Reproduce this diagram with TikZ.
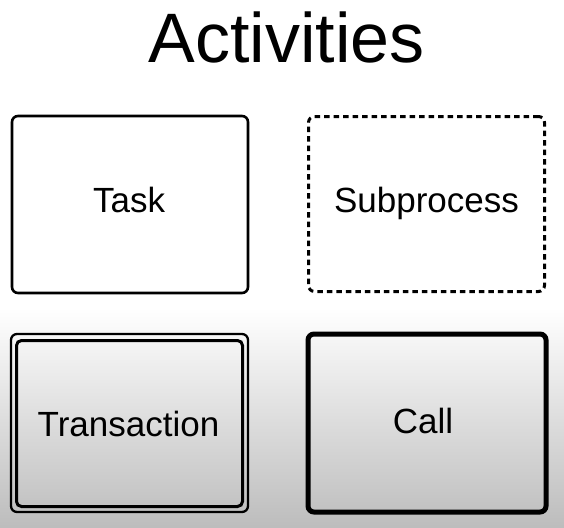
\documentclass[tikz,border=0pt]{standalone}
\usepackage{fontspec}
\setmainfont{Liberation Sans}
\begin{document}
\begin{tikzpicture}[x=1pt,y=-1pt,
  lbl/.style={font=\fontsize{35}{42}\selectfont, anchor=base, inner sep=0pt},
  actbox/.style={draw=black, rounded corners=6pt, inner sep=0pt},
]
\useasboundingbox (0,0) rectangle (564,527);
% background: white top, gradient bottom
\fill[white] (0,0) rectangle (564,310);
\shade[top color=white, bottom color=black!26] (0,308) rectangle (564,527);
% title
\node[font=\fontsize{70}{84}\selectfont, anchor=base, inner sep=0pt] (title) at (286.5,63) {Activities};
% Task
\node[actbox, line width=2.6pt, fill=white, minimum width=236pt, minimum height=177pt] (task) at (130,204.5) {};
\node[lbl] (tasktxt) at (129,212) {Task};
% Subprocess
\node[actbox, line width=3pt, dash pattern=on 5.5pt off 4pt, minimum width=236pt, minimum height=175pt] (sub) at (426.5,204) {};
\node[lbl] (subtxt) at (426.5,212) {Subprocess};
% Transaction
\node[actbox, line width=2.3pt, minimum width=237pt, minimum height=178pt] (trans) at (129.5,423) {};
\node[actbox, rounded corners=5pt, line width=3pt, minimum width=226pt, minimum height=166pt] (transin) at (129.5,423.5) {};
\node[lbl] (transtxt) at (128.5,436) {Transaction};
% Call
\node[actbox, line width=5pt, minimum width=238pt, minimum height=178pt] (call) at (427,423) {};
\node[lbl] (calltxt) at (423,433) {Call};
\end{tikzpicture}
\end{document}
